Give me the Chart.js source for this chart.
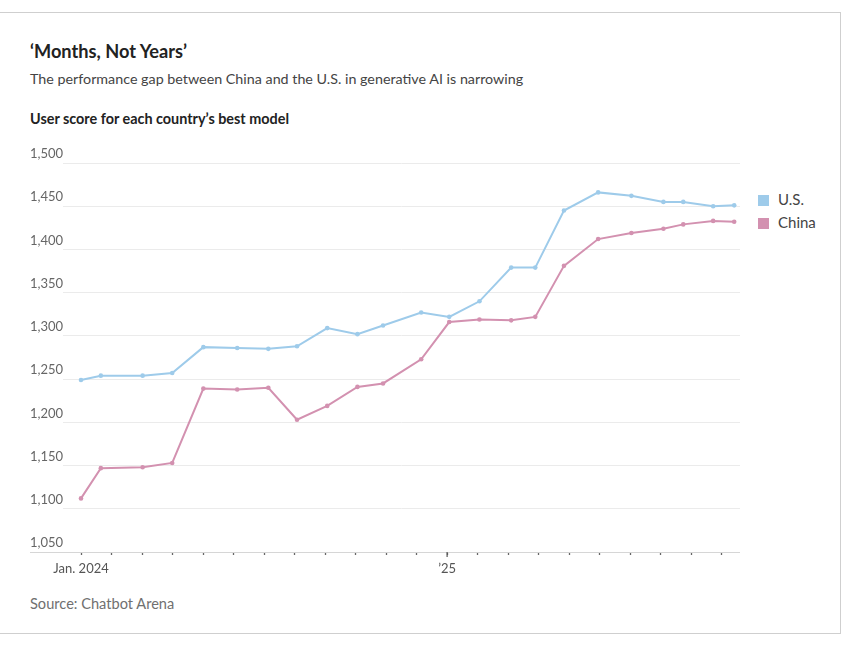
<!DOCTYPE html>
<html>
<head>
<meta charset="utf-8">
<script src="https://cdn.jsdelivr.net/npm/chart.js@4.4.1/dist/chart.umd.min.js"></script>
<style>
  html, body { margin: 0; padding: 0; background: #fff; }
  body { width: 851px; height: 647px; position: relative; overflow: hidden; font-family: Lato, "Noto Sans", sans-serif; }
  #frame { position: absolute; left: -2px; top: 12px; width: 843px; height: 622px; border: 1px solid #cfcfcf; box-sizing: border-box; }
  .txt { position: absolute; left: 30px; white-space: nowrap; }
  #title { top: 40px; font-size: 18.2px; font-weight: 700; color: #222; }
  #subtitle { top: 70px; font-size: 14.3px; color: #444; }
  #charttitle { top: 110px; font-size: 14.4px; font-weight: 700; color: #222; }
  #source { top: 595px; font-size: 14.6px; color: #707070; }
  #chart { position: absolute; left: 0; top: 0; }
  .leg { position: absolute; left: 758px; font-size: 15px; color: #444; line-height: 18px; }
  .leg span { display: inline-block; width: 11px; height: 11px; margin-right: 9px; vertical-align: -1px; }
</style>
</head>
<body>
<div id="frame"></div>
<div class="txt" id="title">‘Months, Not Years’</div>
<div class="txt" id="subtitle">The performance gap between China and the U.S. in generative AI is narrowing</div>
<div class="txt" id="charttitle">User score for each country’s best model</div>
<div class="txt" id="source">Source: Chatbot Arena</div>
<div class="leg" style="top:190px"><span style="background:#9ecbea"></span>U.S.</div>
<div class="leg" style="top:213px"><span style="background:#d391b0"></span>China</div>
<canvas id="chart" width="851" height="647"></canvas>
<script>
// months since Jan. 2024 for each leaderboard snapshot
const months = [0, 0.65, 2.02, 2.99, 4.01, 5.12, 6.14, 7.08, 8.07, 9.06, 9.9, 11.15,
                12.07, 13.06, 14.1, 14.89, 15.83, 16.95, 18.04, 19.09, 19.74, 20.72, 21.41];
const usScores = [1249, 1254, 1254, 1257, 1287, 1286, 1285, 1288, 1309, 1302, 1312, 1327,
                  1322, 1340, 1379, 1379, 1445, 1466, 1462, 1455, 1455, 1450, 1451];
const chinaScores = [1112, 1147, 1148, 1153, 1239, 1238, 1240, 1203, 1219, 1241, 1245, 1273,
                     1316, 1319, 1318, 1322, 1381, 1412, 1419, 1424, 1429, 1433, 1432];
const yTicks = [1050, 1100, 1150, 1200, 1250, 1300, 1350, 1400, 1450, 1500];
const xTickLabels = { 0: 'Jan. 2024', 12: '’25' };

const toPoints = vals => vals.map((v, i) => ({ x: months[i], y: v }));

// baseline runs under the y labels, plus a longer tick at the year mark
const baseline = {
    id: 'baseline',
    afterDraw(chart) {
        const ctx = chart.ctx;
        const area = chart.chartArea;
        const xs = chart.scales.x;
        ctx.save();
        ctx.strokeStyle = '#d6d6d6';
        ctx.lineWidth = 1;
        ctx.beginPath();
        ctx.moveTo(30, area.bottom + 0.5);
        ctx.lineTo(area.right, area.bottom + 0.5);
        ctx.stroke();
        ctx.strokeStyle = '#555';
        ctx.lineWidth = 1.2;
        ctx.beginPath();
        ctx.moveTo(xs.getPixelForValue(12), area.bottom);
        ctx.lineTo(xs.getPixelForValue(12), area.bottom + 5);
        ctx.stroke();
        ctx.restore();
    }
};

new Chart(document.getElementById('chart'), {
    type: 'line',
    data: {
        datasets: [{
            label: 'U.S.',
            data: toPoints(usScores),
            borderColor: '#9ecbea',
            backgroundColor: '#9ecbea',
            borderWidth: 2,
            pointRadius: 2.3,
            pointBorderWidth: 0,
            tension: 0
        }, {
            label: 'China',
            data: toPoints(chinaScores),
            borderColor: '#d391b0',
            backgroundColor: '#d391b0',
            borderWidth: 2,
            pointRadius: 2.3,
            pointBorderWidth: 0,
            tension: 0
        }]
    },
    options: {
        responsive: false,
        animation: false,
        layout: { padding: { left: 30, right: 111, top: 163, bottom: 60 } },
        plugins: { legend: { display: false }, tooltip: { enabled: false } },
        scales: {
            x: {
                type: 'linear',
                min: -0.59,
                max: 21.6,
                afterBuildTicks: scale => { scale.ticks = Array.from({ length: 22 }, (_, i) => ({ value: i })); },
                afterFit: scale => { scale.height = 35; },
                ticks: {
                    autoSkip: false,
                    maxRotation: 0,
                    padding: 6,
                    color: '#555',
                    font: { family: 'Lato', size: 13 },
                    callback: v => xTickLabels[v] || ''
                },
                grid: { drawOnChartArea: false, tickLength: 3, tickColor: '#666', tickWidth: 1.3 },
                border: { display: false }
            },
            y: {
                min: 1050,
                max: 1500,
                afterBuildTicks: scale => { scale.ticks = yTicks.map(v => ({ value: v })); },
                afterFit: scale => { scale.width = 33; },
                ticks: {
                    crossAlign: 'far',
                    padding: 0,
                    labelOffset: -9,
                    color: '#666',
                    font: { family: 'Lato', size: 13 },
                    callback: v => v.toLocaleString('en-US')
                },
                grid: { color: '#ebebeb', drawTicks: false, lineWidth: 1 },
                border: { display: false }
            }
        }
    },
    plugins: [baseline]
});
</script>
</body>
</html>
